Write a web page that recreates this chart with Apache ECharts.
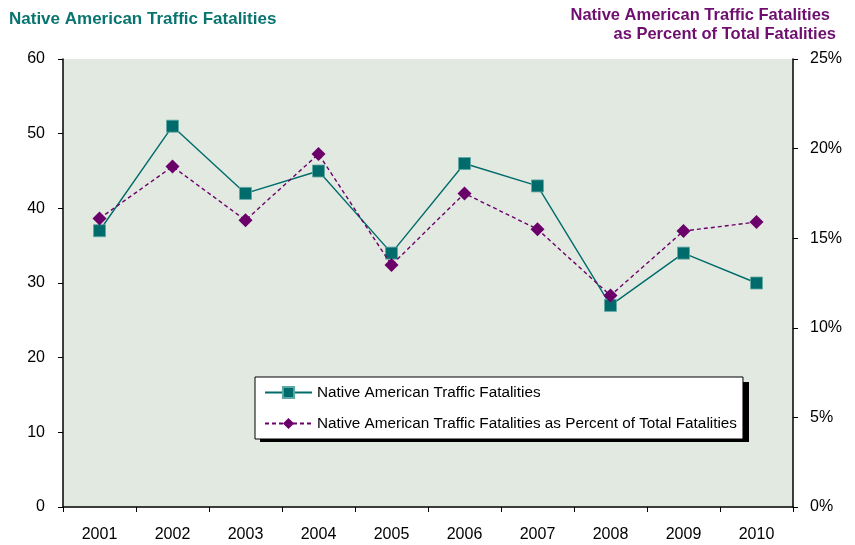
<!DOCTYPE html>
<html>
<head>
<meta charset="utf-8">
<script src="https://cdn.jsdelivr.net/npm/echarts@6/dist/echarts.min.js"></script>
<style>
  html, body { margin: 0; padding: 0; background: #fff; }
  #chart { width: 855px; height: 545px; }
</style>
</head>
<body>
<div id="chart"></div>
<script>
let years = ['2001','2002','2003','2004','2005','2006','2007','2008','2009','2010'];
let fatalities = [37, 51, 42, 45, 34, 46, 43, 27, 34, 30];
let percentOfTotal = [16.1, 19.0, 16.0, 19.7, 13.5, 17.5, 15.5, 11.8, 15.4, 15.9];

let nameA = 'Native American Traffic Fatalities';
let nameB = 'Native American Traffic Fatalities as Percent of Total Fatalities';

let teal = '#006b6b';
let purple = '#6b006b';
let font = 'Arial, "Liberation Sans", sans-serif';

let chart = echarts.init(document.getElementById('chart'));

let opt = {
  animation: false,
  backgroundColor: '#fff',
  textStyle: { fontFamily: font },
  title: [
    {
      text: nameA,
      left: 9, top: 11,
      padding: 0,
      textStyle: { color: '#0a7570', fontSize: 17, fontWeight: 'bold', fontFamily: font }
    },
    {
      text: 'Native American Traffic Fatalities',
      right: 25, top: 7,
      padding: 0,
      textStyle: { color: '#6e0e6e', fontSize: 16.5, fontWeight: 'bold', fontFamily: font }
    },
    {
      text: 'as Percent of Total Fatalities',
      right: 19, top: 26,
      padding: 0,
      textStyle: { color: '#6e0e6e', fontSize: 16.5, fontWeight: 'bold', fontFamily: font }
    }
  ],
  grid: {
    left: 63, right: 62, top: 59, bottom: 38,
    show: true,
    backgroundColor: '#e1e9e1',
    borderWidth: 0
  },
  // drop shadow of the legend box
  graphic: [{
    type: 'rect',
    left: 260, top: 382, z: 3,
    shape: { width: 489, height: 60 },
    style: { fill: '#000' }
  }],
  legend: {
    orient: 'vertical',
    left: 255, top: 377,
    padding: [8, 6, 8, 9],
    itemGap: 16,
    itemWidth: 47,
    itemHeight: 14,
    z: 5,
    backgroundColor: '#fff',
    borderColor: '#000',
    borderWidth: 1,
    borderRadius: 0,
    textStyle: { fontSize: 15.3, color: '#000', fontFamily: font },
    data: [nameA, nameB]
  },
  xAxis: {
    type: 'category',
    data: years,
    boundaryGap: true,
    axisLine: { lineStyle: { color: '#000', width: 1.5 } },
    axisTick: { show: true, length: 5, lineStyle: { color: '#000' } },
    axisLabel: { color: '#000', fontSize: 16, margin: 20 },
    splitLine: { show: false }
  },
  yAxis: [
    {
      type: 'value',
      min: 0, max: 60, interval: 10,
      position: 'left',
      axisLine: { show: true, lineStyle: { color: '#000', width: 1.5 } },
      axisTick: { show: true, length: 5, lineStyle: { color: '#000' } },
      axisLabel: { color: '#000', fontSize: 16, margin: 18 },
      splitLine: { show: false }
    },
    {
      type: 'value',
      min: 0, max: 25, interval: 5,
      position: 'right',
      axisLine: { show: true, lineStyle: { color: '#000', width: 1.5 } },
      axisTick: { show: true, length: 5, lineStyle: { color: '#000' } },
      axisLabel: { color: '#000', fontSize: 16, margin: 17, formatter: '{value}%' },
      splitLine: { show: false }
    }
  ],
  series: [
    {
      name: nameA,
      type: 'line',
      yAxisIndex: 0,
      data: fatalities,
      symbol: 'rect',
      symbolSize: 12,
      itemStyle: { color: teal, borderColor: '#5fa8a3', borderWidth: 0.8 },
      lineStyle: { color: teal, width: 1.4 },
      z: 3
    },
    {
      name: nameB,
      type: 'line',
      yAxisIndex: 1,
      data: percentOfTotal,
      symbol: 'diamond',
      symbolSize: 14,
      itemStyle: { color: purple },
      lineStyle: { color: purple, width: 1.4, type: [4, 3] },
      z: 4
    }
  ]
};
chart.setOption(opt);
</script>
</body>
</html>
